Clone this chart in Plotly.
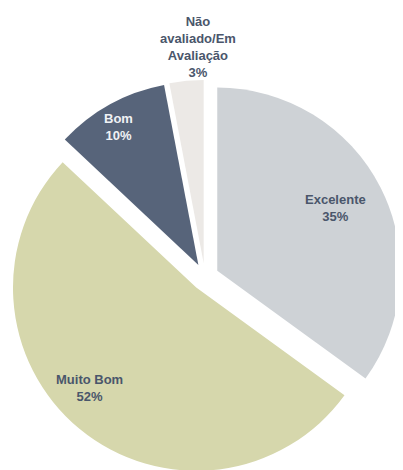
import math
import plotly.graph_objects as go

categories = ["Excelente", "Muito Bom", "Bom", "Não avaliado/Em Avaliação"]
display_labels = ["Excelente", "Muito Bom", "Bom", "Não<br>avaliado/Em<br>Avaliação"]
values = [35, 52, 10, 3]
colors = ["#ced2d6", "#d6d7ac", "#57647a", "#ece9e6"]
text_colors = ["#4a566b", "#4a566b", "#f0f2f5", "#4a566b"]

# label placement (style): distance from the slice tip as a fraction of radius,
# and a small angular nudge in degrees
label_radius = [0.73, 0.80, 0.87, 1.18]
label_nudge = [-1, 7, -1.4, 3.9]

W, H = 403, 470
PULL = 0.075
dom_x = [0.0, 0.9777]
dom_y = [0.0085, 0.8468]

fig = go.Figure(
    go.Pie(
        labels=categories,
        values=values,
        textinfo="none",
        sort=False,
        direction="clockwise",
        rotation=0,
        pull=[PULL] * len(values),
        marker=dict(colors=colors, line=dict(width=0)),
        domain=dict(x=dom_x, y=dom_y),
        showlegend=False,
        hoverinfo="label+percent",
    )
)

# pie geometry (same rule plotly uses to size a pie in its domain)
box_w = W * (dom_x[1] - dom_x[0])
box_h = H * (dom_y[1] - dom_y[0])
r = min(box_w, box_h) / 2 / (1 + PULL)
cx = W * (dom_x[0] + dom_x[1]) / 2
cy = H * (1 - (dom_y[0] + dom_y[1]) / 2)

total = sum(values)
cum = 0
for i, v in enumerate(values):
    mid = (cum + v / 2) / total * 360
    cum += v
    a = math.radians(mid)
    tipx = cx + PULL * r * math.sin(a)
    tipy = cy - PULL * r * math.cos(a)
    b = math.radians(mid + label_nudge[i])
    d = label_radius[i] * r
    lx = tipx + d * math.sin(b)
    ly = tipy - d * math.cos(b)
    pct = round(v / total * 100)
    fig.add_annotation(
        x=lx / W, y=1 - ly / H, xref="paper", yref="paper",
        text=f"{display_labels[i]}<br>{pct}%",
        showarrow=False, xanchor="center", yanchor="middle",
        align="center",
        font=dict(family="Liberation Sans, Arial, sans-serif", size=13,
                  color=text_colors[i], weight="bold"),
    )

fig.update_layout(
    width=W,
    height=H,
    margin=dict(l=0, r=0, t=0, b=0),
    paper_bgcolor="white",
    plot_bgcolor="white",
    showlegend=False,
)

fig.write_html("out.html")
